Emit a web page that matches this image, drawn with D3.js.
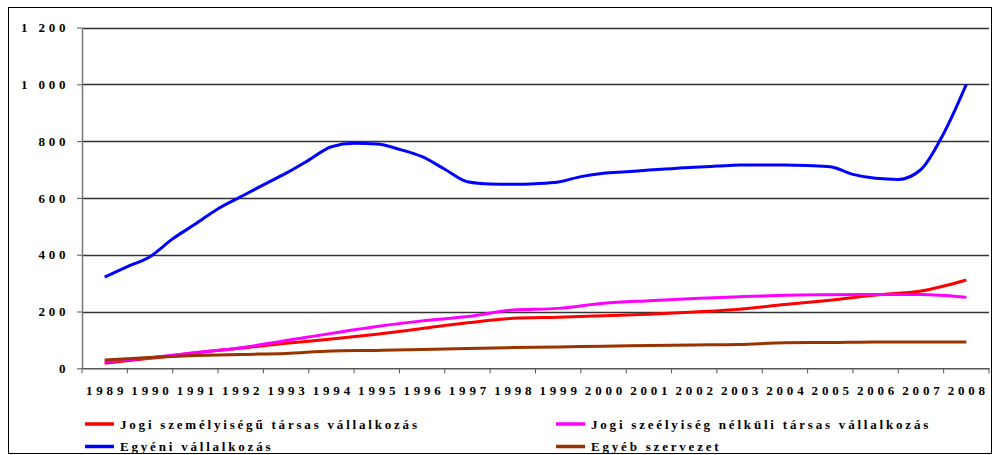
<!DOCTYPE html>
<html>
<head>
<meta charset="utf-8">
<script src="https://cdn.jsdelivr.net/npm/d3@7"></script>
<style>
  body { margin: 0; background: #fff; }
  text { font-family: "Liberation Serif", "Times New Roman", serif; font-weight: bold; fill: #000; }
</style>
</head>
<body>
<div id="chart"></div>
<script>
// évek (kategóriák)
const years = [1989, 1990, 1991, 1992, 1993, 1994, 1995, 1996, 1997, 1998,
               1999, 2000, 2001, 2002, 2003, 2004, 2005, 2006, 2007, 2008];

const jogiSzemelyisegu = [18, 35, 55, 71, 88, 103, 120, 140, 160, 176,
                          180, 185, 190, 198, 208, 225, 240, 258, 272, 311];
const jogiNelkuli = [22, 37, 55, 72, 98, 123, 147, 167, 182, 205,
                     211, 229, 238, 246, 252, 257, 259, 260, 260, 250];
const egyeb = [29, 38, 45, 49, 52, 61, 63, 66, 70, 73,
               75, 78, 80, 82, 84, 90, 91, 93, 93, 93];

// az egyéni vállalkozás félévente
const egyeniPeriods = [1989, 1989.5, 1990, 1990.5, 1991, 1991.5, 1992, 1992.5, 1993, 1993.5,
                       1994, 1994.5, 1995, 1995.5, 1996, 1996.5, 1997, 1997.5, 1998, 1998.5,
                       1999, 1999.5, 2000, 2000.5, 2001, 2001.5, 2002, 2002.5, 2003, 2003.5,
                       2004, 2004.5, 2005, 2005.5, 2006, 2006.5, 2007, 2007.5, 2008];
const egyeni = [321, 358, 393, 456, 508, 562, 604, 646, 687, 733,
                780, 792, 790, 771, 745, 701, 657, 649, 648, 650,
                656, 675, 687, 692, 698, 703, 708, 712, 716, 716,
                716, 714, 710, 683, 669, 665, 700, 827, 1000];

const yTicks = [0, 200, 400, 600, 800, 1000, 1200];

const series = [
  { name: "Jogi személyiségű társas vállalkozás", color: "#ff0000", x: years, y: jogiSzemelyisegu },
  { name: "Jogi szeélyiség nélküli társas vállalkozás", color: "#ff00ff", x: years, y: jogiNelkuli },
  { name: "Egyéni vállalkozás", color: "#0000ff", x: egyeniPeriods, y: egyeni },
  { name: "Egyéb szervezet", color: "#993300", x: years, y: egyeb }
];

const width = 992, height = 455;
const margin = { left: 82, right: 3, top: 27.5, bottom: 86.7 };
const axisLs = 3.8;

const svg = d3.select("#chart")
  .append("svg")
  .attr("width", width)
  .attr("height", height);

svg.append("rect")
  .attr("x", 8.5).attr("y", 7.5)
  .attr("width", 983).attr("height", 446)
  .attr("fill", "none")
  .attr("stroke", "#000")
  .attr("stroke-width", 1);

const x = d3.scaleBand()
  .domain(years)
  .range([margin.left, width - margin.right])
  .padding(0);

const xPos = d3.scaleLinear()
  .domain([years[0], years[years.length - 1]])
  .range([x(years[0]) + x.bandwidth() / 2, x(years[years.length - 1]) + x.bandwidth() / 2]);

const y = d3.scaleLinear()
  .domain([0, 1200])
  .range([height - margin.bottom, margin.top]);

// rácsvonalak
svg.append("g")
  .selectAll("line")
  .data(yTicks.filter(d => d > 0))
  .enter()
  .append("line")
  .attr("x1", margin.left)
  .attr("x2", width - margin.right)
  .attr("y1", d => Math.round(y(d)) + 0.5)
  .attr("y2", d => Math.round(y(d)) + 0.5)
  .attr("stroke", "#333")
  .attr("stroke-width", 1.3);

// y tengely
const fmt = d => d3.format(",")(d).replace(",", " ");
const yAxis = svg.append("g")
  .attr("transform", `translate(${margin.left},0)`)
  .call(d3.axisLeft(y).tickValues(yTicks).tickSize(5).tickSizeOuter(0).tickFormat(fmt));
yAxis.select(".domain").attr("stroke", "#777").attr("stroke-width", 1.5);
yAxis.selectAll(".tick line").attr("stroke", "#555");
yAxis.selectAll(".tick text")
  .attr("x", -16.5 + axisLs)
  .attr("font-size", 13)
  .attr("letter-spacing", axisLs + "px")
  .attr("font-family", null);

// x tengely
const xAxis = svg.append("g")
  .attr("transform", `translate(0,${y(0)})`)
  .call(d3.axisBottom(x).tickSize(0).tickPadding(17));
xAxis.select(".domain").attr("stroke", "#555").attr("stroke-width", 1.5);
xAxis.selectAll(".tick text")
  .attr("font-size", 13)
  .attr("dx", axisLs / 2)
  .attr("letter-spacing", axisLs + "px")
  .attr("font-family", null);

// tengelyosztások a kategóriák határán
svg.append("g")
  .selectAll("line")
  .data(years.concat([null]))
  .enter()
  .append("line")
  .attr("x1", d => d === null ? width - margin.right : x(d))
  .attr("x2", d => d === null ? width - margin.right : x(d))
  .attr("y1", y(0))
  .attr("y2", y(0) + 5)
  .attr("stroke", "#555");

// vonalak
const line = d3.line()
  .x(d => xPos(d[0]))
  .y(d => y(d[1]))
  .curve(d3.curveMonotoneX);

svg.append("g")
  .selectAll("path")
  .data(series)
  .enter()
  .append("path")
  .attr("d", s => line(s.x.map((v, i) => [v, s.y[i]])))
  .attr("fill", "none")
  .attr("stroke", s => s.color)
  .attr("stroke-width", 3)
  .attr("stroke-linejoin", "round");

// jelmagyarázat
const legendPos = [[85, 424], [556, 424], [85, 446.5], [556, 446.5]];
const legend = svg.append("g");
series.forEach((s, i) => {
  const [lx, ly] = legendPos[i];
  legend.append("line")
    .attr("x1", lx).attr("x2", lx + 29)
    .attr("y1", ly).attr("y2", ly)
    .attr("stroke", s.color)
    .attr("stroke-width", 3.5);
  legend.append("text")
    .attr("x", lx + 35)
    .attr("y", ly + 4.5)
    .attr("font-size", 13)
    .attr("letter-spacing", "2.8px")
    .text(s.name);
});
</script>
</body>
</html>
